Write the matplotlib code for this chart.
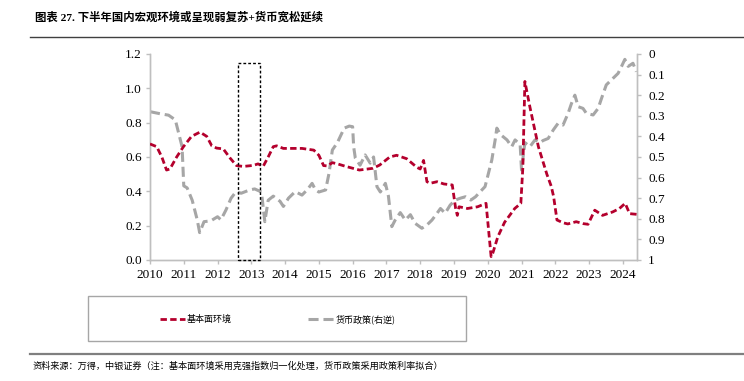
import matplotlib.pyplot as plt
import matplotlib.patches as mpatches
from matplotlib.lines import Line2D

plt.rcParams['font.family'] = ['Liberation Serif', 'Noto Sans CJK SC', 'DejaVu Sans']

# 基本面环境 (left axis)
fund_x = [2010.0, 2010.2, 2010.35, 2010.49, 2010.59, 2010.79, 2010.99, 2011.23, 2011.48,
          2011.68, 2011.83, 2011.97, 2012.17, 2012.37, 2012.56, 2012.76, 2013.06, 2013.2,
          2013.35, 2013.5, 2013.65, 2013.75, 2013.95, 2014.5, 2014.85, 2015.0, 2015.14,
          2015.25, 2015.4, 2015.55, 2015.8, 2016.2, 2016.6, 2016.8, 2017.1, 2017.3, 2017.6,
          2017.9, 2018.0, 2018.1, 2018.2, 2018.3, 2018.5, 2018.7, 2018.95, 2019.05, 2019.1,
          2019.15, 2019.4, 2019.7, 2019.95, 2020.1, 2020.15, 2020.3, 2020.5, 2020.8, 2020.98,
          2021.04, 2021.1, 2021.25, 2021.5, 2021.75, 2021.88, 2021.95, 2022.05, 2022.23,
          2022.37, 2022.62, 2022.82, 2022.97, 2023.17, 2023.4, 2023.7, 2023.9, 2024.07,
          2024.2, 2024.41]
fund_v = [0.676, 0.66, 0.60, 0.524, 0.53, 0.60, 0.66, 0.72, 0.745,
          0.72, 0.665, 0.652, 0.647, 0.594, 0.55, 0.545, 0.551, 0.56,
          0.545, 0.60, 0.66, 0.665, 0.65, 0.65, 0.64, 0.61, 0.55,
          0.548, 0.567, 0.56, 0.545, 0.524, 0.534, 0.553, 0.60, 0.61, 0.59,
          0.54, 0.53, 0.58, 0.456, 0.447, 0.456, 0.443, 0.437, 0.30, 0.26,
          0.31, 0.30, 0.31, 0.33, 0.02, 0.04, 0.136, 0.22, 0.30, 0.33,
          0.54, 1.04, 0.89, 0.66, 0.50, 0.43, 0.37, 0.233, 0.217,
          0.21, 0.223, 0.212, 0.208, 0.29, 0.26, 0.28, 0.30, 0.33,
          0.27, 0.266]

# 货币政策 (right axis, inverted)
money_x = [2010.0, 2010.3, 2010.55, 2010.75, 2010.85, 2010.95, 2011.0, 2011.1, 2011.25,
           2011.4, 2011.47, 2011.6, 2011.8, 2012.0, 2012.1, 2012.25, 2012.4, 2012.55,
           2012.7, 2012.95, 2013.1, 2013.3, 2013.4, 2013.5, 2013.65, 2013.85, 2013.95,
           2014.1, 2014.3, 2014.5, 2014.65, 2014.8, 2014.9, 2015.0, 2015.2, 2015.3,
           2015.4, 2015.55, 2015.75, 2015.9, 2016.0, 2016.03, 2016.08, 2016.22, 2016.37,
           2016.52, 2016.62, 2016.72, 2016.82, 2016.97, 2017.06, 2017.16, 2017.26, 2017.41,
           2017.56, 2017.71, 2017.85, 2018.05, 2018.2, 2018.35, 2018.5, 2018.6, 2018.74,
           2018.89, 2019.04, 2019.19, 2019.34, 2019.5, 2019.64, 2019.78, 2019.92, 2020.02,
           2020.12, 2020.22, 2020.27, 2020.37, 2020.57, 2020.71, 2020.81, 2020.96, 2021.0,
           2021.1, 2021.25, 2021.4, 2021.55, 2021.64, 2021.79, 2021.94, 2022.08, 2022.23,
           2022.38, 2022.48, 2022.58, 2022.68, 2022.82, 2022.92, 2023.12, 2023.27, 2023.37,
           2023.51, 2023.71, 2023.86, 2023.96, 2024.06, 2024.16, 2024.3, 2024.4]
money_v = [0.28, 0.29, 0.297, 0.32, 0.385, 0.45, 0.64, 0.65, 0.71,
           0.806, 0.867, 0.814, 0.81, 0.79, 0.805, 0.757, 0.70, 0.668,
           0.676, 0.66, 0.655, 0.67, 0.814, 0.71, 0.69, 0.715, 0.74,
           0.70, 0.668, 0.685, 0.66, 0.628, 0.66, 0.67, 0.66, 0.58,
           0.466, 0.43, 0.36, 0.35, 0.353, 0.45, 0.506, 0.54, 0.49,
           0.53, 0.50, 0.644, 0.67, 0.628, 0.69, 0.838, 0.806, 0.77,
           0.806, 0.78, 0.822, 0.846, 0.83, 0.806, 0.773, 0.75, 0.773,
           0.733, 0.709, 0.70, 0.693, 0.709, 0.693, 0.668, 0.644, 0.58,
           0.515, 0.417, 0.36, 0.39, 0.417, 0.45, 0.417, 0.44, 0.563,
           0.43, 0.45, 0.417, 0.43, 0.42, 0.41, 0.369, 0.337, 0.345,
           0.288, 0.24, 0.20, 0.256, 0.264, 0.288, 0.296, 0.264, 0.215,
           0.15, 0.118, 0.094, 0.061, 0.026, 0.06, 0.045, 0.086]

years = list(range(2010, 2025))
left_ticks = [0.0, 0.2, 0.4, 0.6, 0.8, 1.0, 1.2]
right_ticks = [0, 0.1, 0.2, 0.3, 0.4, 0.5, 0.6, 0.7, 0.8, 0.9, 1]
box_span = (2012.61, 2013.25, 1.146)

red = '#B4002D'
grey = '#A6A6A6'
spine_c = '#BFBFBF'

fig = plt.figure(figsize=(7.44, 3.81), dpi=100)
ax = fig.add_axes([0.2016, 0.3176, 0.6546, 0.5407])
ax2 = ax.twinx()

ax.plot(fund_x, fund_v, color=red, lw=2.0, dashes=(2.3, 1.2), zorder=3)
ax2.plot(money_x, money_v, color=grey, lw=2.2, dashes=(3.3, 1.6), zorder=2)

ax.add_patch(mpatches.Rectangle((box_span[0], 0), box_span[1] - box_span[0], box_span[2],
                                fill=False, ec='black', lw=1.0, ls=(0, (2, 1.5)),
                                zorder=4, clip_on=False))

ax.set_xlim(2010, 2024.42)
ax.set_ylim(0, 1.2)
ax2.set_ylim(1, 0)
ax.set_xticks(years)
ax.set_xticklabels([str(y) for y in years])
ax.set_yticks(left_ticks)
ax.set_yticklabels(['%.1f' % t for t in left_ticks])
ax2.set_yticks(right_ticks)
ax2.set_yticklabels(['0' if t == 0 else '1' if t == 1 else '%.1f' % t for t in right_ticks])

for a in (ax, ax2):
    a.spines['top'].set_visible(False)
    for s in ('left', 'right', 'bottom'):
        a.spines[s].set_color(spine_c)
        a.spines[s].set_linewidth(1.0)
    a.tick_params(colors=spine_c, labelcolor='black', labelsize=9.5, length=3, width=1)
ax.tick_params(axis='y', pad=3)
ax2.tick_params(axis='y', pad=5)
ax.patch.set_visible(False)
ax.set_zorder(ax2.get_zorder() + 1)

# title and rules
fig.text(0.047, 0.955, '图表 27. 下半年国内宏观环境或呈现弱复苏+货币宽松延续',
         fontsize=8.2, fontweight='bold', va='center', ha='left',
         family=['Liberation Serif', 'Noto Sans CJK SC'])
fig.add_artist(Line2D([0.04, 1.0], [1 - 37 / 381, 1 - 37 / 381], color='#404040', lw=1.0))
fig.add_artist(Line2D([0.04, 1.0], [1 - 354 / 381, 1 - 354 / 381], color='#7F7F7F', lw=1.6))

# legend box
fig.add_artist(mpatches.Rectangle((88 / 744, 1 - 341 / 381), 378 / 744, 45 / 381,
                                  fill=False, ec='#A6A6A6', lw=1.0))
handles = [Line2D([], [], color=red, lw=2.0, dashes=(2.3, 1.2)),
           Line2D([], [], color=grey, lw=2.2, dashes=(3.3, 1.6))]
fig.legend(handles, ['基本面环境', '货币政策(右逆)'], loc='center',
           bbox_to_anchor=(0.373, 1 - 319 / 381), ncol=2, frameon=False,
           handlelength=2.8, handletextpad=0.2, columnspacing=8.5,
           prop={'family': ['Noto Sans CJK SC'], 'size': 6.5})

fig.text(0.044, 1 - 366 / 381,
         '资料来源：万得，中银证券（注：基本面环境采用克强指数归一化处理，货币政策采用政策利率拟合）',
         fontsize=6.6, style='italic', va='center', ha='left',
         family=['Noto Sans CJK SC'])

fig.savefig('out.png', dpi=100)
